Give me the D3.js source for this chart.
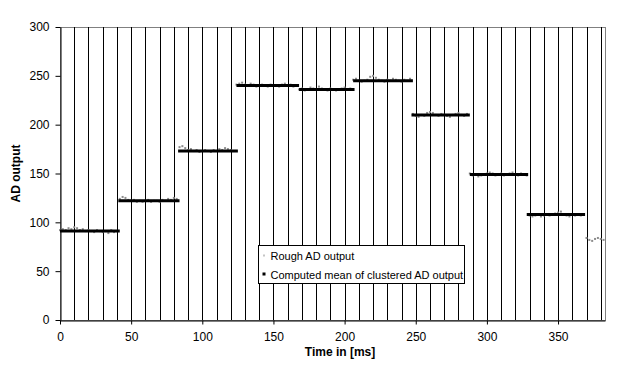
<!DOCTYPE html>
<html>
<head>
<meta charset="utf-8">
<script src="https://cdn.jsdelivr.net/npm/d3@7"></script>
<style>
  body { margin: 0; background: #fff; }
  text { font-family: "Liberation Sans", Arial, sans-serif; }
</style>
</head>
<body>
<div id="chart"></div>
<script>
// rough AD samples, one every 2 ms starting at 0
const roughStart = 0
const roughStep = 2
const roughValues = [
  92,93,92,94,93,95,94,92,93,91,92,91,90,92,91,90,91,89,92,90,91,
  124,126,125,123,122,123,121,122,121,122,123,121,122,122,121,123,122,124,123,125,124,
  177,178,176,174,175,173,174,172,173,174,173,172,174,173,175,174,176,175,174,173,
  241,242,243,241,240,242,241,239,240,241,240,239,241,240,240,239,241,242,240,241,239,240,
  236,237,235,236,238,237,236,239,237,236,235,237,236,235,236,237,238,236,237,
  246,247,245,244,245,246,249,250,248,246,245,244,246,245,247,246,245,244,246,245,247,
  211,209,208,210,209,212,213,212,210,209,211,210,209,208,210,211,212,210,209,211,
  150,148,149,147,148,149,150,151,150,148,149,150,148,149,150,151,149,148,150,149,148,
  107,106,107,108,106,107,108,107,108,109,110,111,108,107,106,108,107,108,107,108,
  84,82,81,83,84,83,82
]

// computed mean of each cluster
const meanStart = [0, 41, 83, 124, 168, 206, 247, 288, 328]
const meanEnd   = [42, 84, 125, 168, 207, 248, 288, 329, 369]
const meanValue = [91, 122, 173, 240, 236, 245, 210, 149, 108]

const gridTimes = d3.range(10, 390, 10)
const xTicks = [0, 50, 100, 150, 200, 250, 300, 350]
const yTicks = [0, 50, 100, 150, 200, 250, 300]
const legendLabels = ["Rough AD output", "Computed mean of clustered AD output"]

const width = 627
const height = 368
const margin = {top: 27, right: 22, bottom: 48, left: 60}
const w = width - margin.left - margin.right
const h = height - margin.top - margin.bottom

const svg = d3.select("#chart").append("svg")
  .attr("width", width)
  .attr("height", height)

const g = svg.append("g")
  .attr("transform", "translate(" + margin.left + "," + margin.top + ")")

const x = d3.scaleLinear().domain([0, 383]).range([0, w])
const y = d3.scaleLinear().domain([0, 300]).range([h, 0])

// plot frame (grey top/right)
g.append("rect")
  .attr("x", 0.5).attr("y", 0.5)
  .attr("width", w).attr("height", h)
  .attr("fill", "none")
  .attr("stroke", "#808080")

// vertical black lines every 10 ms
g.append("g").selectAll("line")
  .data(gridTimes)
  .enter().append("line")
  .attr("x1", d => Math.round(x(d)) + 0.5)
  .attr("x2", d => Math.round(x(d)) + 0.5)
  .attr("y1", 0)
  .attr("y2", h)
  .attr("stroke", "#000")
  .attr("stroke-width", 1)

// axes
const yAxis = g.append("g")
  .attr("transform", "translate(0.5,0)")
  .call(d3.axisLeft(y).tickValues(yTicks).tickSize(5).tickPadding(6).tickSizeOuter(0))
yAxis.selectAll("text").style("font-size", "12px").attr("fill", "#000")
yAxis.select(".domain").attr("stroke", "#000")

const xAxis = g.append("g")
  .attr("transform", "translate(0," + (h + 0.5) + ")")
  .call(d3.axisBottom(x).tickValues(xTicks).tickSize(4).tickPadding(8).tickSizeOuter(0))
xAxis.selectAll("text").style("font-size", "12px").attr("fill", "#000")
xAxis.select(".domain").attr("stroke", "#000")

// rough points
g.append("g").selectAll("rect")
  .data(roughValues)
  .enter().append("rect")
  .attr("x", (d, i) => x(roughStart + i * roughStep) - 1)
  .attr("y", d => y(d) - 1)
  .attr("width", 2)
  .attr("height", 2)
  .attr("fill", "#8c8c8c")

// mean lines
g.append("g").selectAll("line")
  .data(d3.zip(meanStart, meanEnd, meanValue))
  .enter().append("line")
  .attr("x1", d => x(d[0]))
  .attr("x2", d => x(d[1]))
  .attr("y1", d => y(d[2]))
  .attr("y2", d => y(d[2]))
  .attr("stroke", "#000")
  .attr("stroke-width", 3)

// axis titles
svg.append("text")
  .attr("transform", "translate(20," + (margin.top + h / 2) + ") rotate(-90)")
  .attr("text-anchor", "middle")
  .style("font-size", "12px")
  .style("font-weight", "bold")
  .text("AD output")

svg.append("text")
  .attr("x", 340)
  .attr("y", 356)
  .attr("text-anchor", "middle")
  .style("font-size", "12px")
  .style("font-weight", "bold")
  .text("Time in [ms]")

// legend
const legend = svg.append("g").attr("transform", "translate(258.5,245.5)")
legend.append("rect")
  .attr("width", 206).attr("height", 38)
  .attr("fill", "#fff").attr("stroke", "#000")

legend.append("rect")
  .attr("x", 5).attr("y", 9).attr("width", 1).attr("height", 2)
  .attr("fill", "#8c8c8c")
legend.append("rect")
  .attr("x", 4).attr("y", 27).attr("width", 3).attr("height", 3)
  .attr("fill", "#000")

legend.selectAll("text.lbl")
  .data(legendLabels)
  .enter().append("text")
  .attr("class", "lbl")
  .attr("x", 12)
  .attr("y", (d, i) => 14 + i * 19)
  .style("font-size", "11px")
  .text(d => d)
</script>
</body>
</html>
